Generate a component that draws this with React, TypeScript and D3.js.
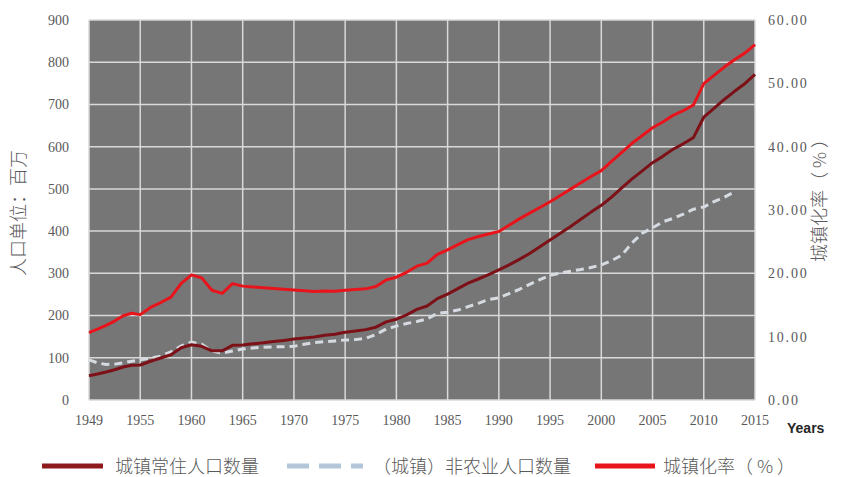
import React from 'react';
import * as d3 from 'd3';

// years 1949..2015
const years = d3.range(1949, 2016);

// 城镇常住人口 (百万)
const urbanPop = [
  57.65, 61.69, 66.32, 71.63, 78.26, 82.49, 82.85, 91.85, 99.49, 107.21,
  123.71, 130.73, 127.07, 116.59, 116.46, 129.5, 130.45, 133.13, 135.48, 138.38,
  141.17, 144.24, 147.11, 149.35, 153.45, 155.95, 160.3, 163.41, 166.69, 172.45,
  184.95, 191.4, 201.71, 214.8, 222.74, 240.17, 250.94, 263.66, 276.74, 286.61,
  297.0, 308.0, 320.0, 333.0, 347.0, 363.0, 379.0, 395.0, 411.0, 428.0,
  445.0, 461.0, 480.64, 502.12, 523.76, 542.83, 562.12, 577.06, 593.79, 606.67,
  621.86, 669.78, 690.79, 711.82, 731.11, 749.16, 771.16,
];

// （城镇）非农业人口 (百万), 1949..2013
const nonAgPop = [
  95, 88, 84, 85, 88, 92, 95, 99, 104, 114,
  128, 137, 132, 116, 111, 116, 121, 123, 125, 126,
  126, 127, 132, 136, 138, 140, 142, 143, 146, 155,
  168, 175, 181, 186, 192, 205, 208, 213, 221, 229,
  238, 242, 252, 262, 274, 285, 295, 301, 305, 309,
  314, 320, 330, 343, 372, 395, 408, 422, 430, 440,
  452, 457, 470, 480, 493,
];

// 城镇化率 (%)
const urbanRate = [
  10.64, 11.18, 11.78, 12.46, 13.31, 13.69, 13.48, 14.62, 15.39, 16.25,
  18.41, 19.75, 19.29, 17.33, 16.84, 18.37, 17.98, 17.86, 17.74, 17.62,
  17.5, 17.38, 17.26, 17.13, 17.2, 17.16, 17.34, 17.44, 17.55, 17.92,
  18.96, 19.39, 20.16, 21.13, 21.62, 23.01, 23.71, 24.52, 25.32, 25.81,
  26.21, 26.6, 27.6, 28.6, 29.5, 30.4, 31.3, 32.3, 33.3, 34.3,
  35.3, 36.22, 37.66, 39.09, 40.53, 41.76, 42.99, 43.9, 44.94, 45.68,
  46.59, 49.95, 51.27, 52.57, 53.73, 54.77, 56.1,
];

const xTicks = [1949, 1955, 1960, 1965, 1970, 1975, 1980, 1985, 1990, 1995, 2000, 2005, 2010, 2015];
const leftTicks = d3.range(0, 901, 100);
const rightTicks = d3.range(0, 61, 10);

const W = 842;
const H = 477;
const plot = { left: 89, right: 755, top: 20, bottom: 400 };

const labelColor = '#595959';
const cjk = '"Noto Sans CJK SC", "Noto Sans", sans-serif';
const numFont = '"Liberation Serif", "DejaVu Serif", serif';

export default function App() {
  const step = (plot.right - plot.left) / (xTicks.length - 1);
  // tick labels are evenly spaced, so 1949→1955 gets the same width as 5 years
  const x = d3.scaleLinear()
    .domain([1949, 1955, 2015])
    .range([plot.left, plot.left + step, plot.right]);
  const yL = d3.scaleLinear().domain([0, 900]).range([plot.bottom, plot.top]);
  const yR = d3.scaleLinear().domain([0, 60]).range([plot.bottom, plot.top]);

  const lineL = d3.line<number>()
    .x((_, i) => x(years[i]))
    .y((d) => yL(d));
  const lineR = d3.line<number>()
    .x((_, i) => x(years[i]))
    .y((d) => yR(d));

  const fmtR = d3.format('.2f');

  return (
    <svg width={W} height={H} style={{ position: 'absolute', left: 0, top: 0, background: '#fff' }}>
      {/* plot background */}
      <rect x={plot.left} y={plot.top} width={plot.right - plot.left} height={plot.bottom - plot.top} fill="#767676" />

      {/* grid */}
      {leftTicks.map((t) => (
        <line key={'h' + t} x1={plot.left} x2={plot.right} y1={yL(t)} y2={yL(t)} stroke="#d9d9d9" strokeWidth={1.5} />
      ))}
      {xTicks.map((t) => (
        <line key={'v' + t} x1={x(t)} x2={x(t)} y1={plot.top} y2={plot.bottom} stroke="#d9d9d9" strokeWidth={1.5} />
      ))}

      {/* series */}
      <path d={lineL(nonAgPop) ?? ''} fill="none" stroke="#d5dbe1" strokeWidth={3} strokeDasharray="8,5" />
      <path d={lineL(urbanPop) ?? ''} fill="none" stroke="#7d1118" strokeWidth={3} strokeLinejoin="round" />
      <path d={lineR(urbanRate) ?? ''} fill="none" stroke="#e8141c" strokeWidth={3} strokeLinejoin="round" />

      {/* left axis */}
      {leftTicks.map((t) => (
        <text key={'l' + t} x={69} y={yL(t)} dy="0.35em" textAnchor="end" fontFamily={numFont} fontSize={14} fill={labelColor}>
          {t}
        </text>
      ))}
      <text transform={`translate(25,${(plot.top + plot.bottom) / 2 + 3}) rotate(-90)`} textAnchor="middle" fontFamily={cjk} fontWeight={300} fontSize={18} fill={labelColor}>
        人口单位：百万
      </text>

      {/* right axis */}
      {rightTicks.map((t) => (
        <text key={'r' + t} x={768} y={yR(t)} dy="0.35em" textAnchor="start" fontFamily={numFont} fontSize={14} letterSpacing={1.8} fill={labelColor}>
          {fmtR(t)}
        </text>
      ))}
      <text transform={`translate(826,${(plot.top + plot.bottom) / 2 - 14}) rotate(-90)`} textAnchor="middle" fontFamily={cjk} fontWeight={300} fontSize={18} fill={labelColor}>
        城镇化率（ % ）
      </text>

      {/* bottom axis */}
      {xTicks.map((t) => (
        <text key={'x' + t} x={x(t)} y={425} textAnchor="middle" fontFamily={numFont} fontSize={14} fill={labelColor}>
          {t}
        </text>
      ))}
      <text x={787} y={433} fontFamily='"Liberation Sans", Arial, sans-serif' fontWeight="bold" fontSize={14} fill="#262626">
        Years
      </text>

      {/* legend */}
      <g fontFamily={cjk} fontWeight={300} fontSize={18} fill={labelColor}>
        <line x1={42} x2={103} y1={466} y2={466} stroke="#8e1a1e" strokeWidth={5} />
        <text x={115} y={473}>城镇常住人口数量</text>
        <line x1={287} x2={363} y1={466} y2={466} stroke="#b4c7d9" strokeWidth={5} strokeDasharray="22,10" />
        <text x={373} y={473}>（城镇）非农业人口数量</text>
        <line x1={595} x2={655} y1={466} y2={466} stroke="#e8141c" strokeWidth={5} />
        <text x={663} y={473}>城镇化率（ % ）</text>
      </g>
    </svg>
  );
}
